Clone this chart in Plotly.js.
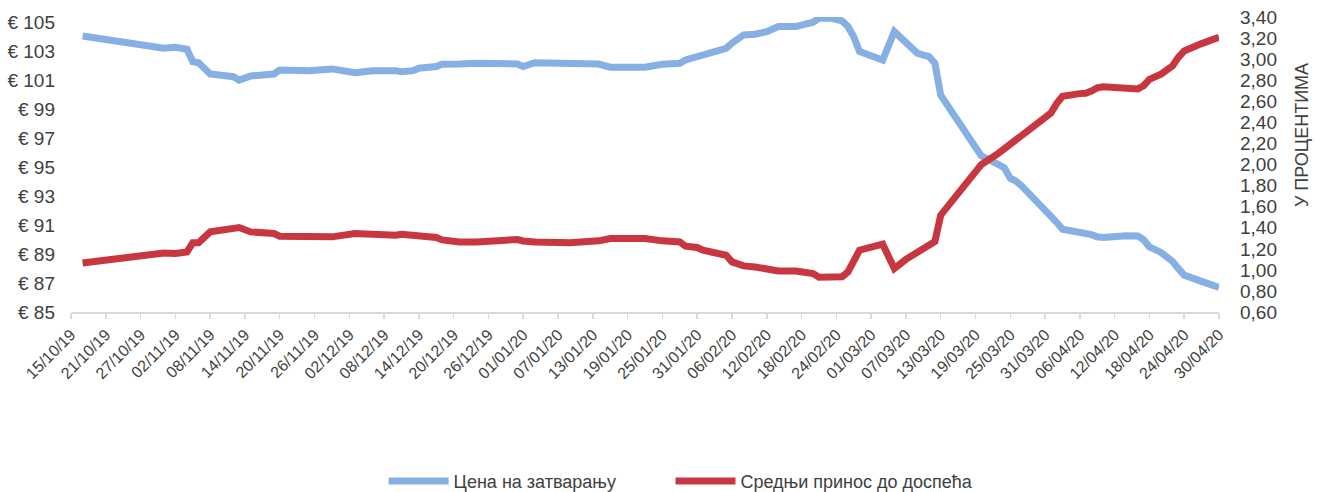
<!DOCTYPE html>
<html>
<head>
<meta charset="utf-8">
<script src="https://cdn.plot.ly/plotly-3.0.1.min.js"></script>
<style>html,body{margin:0;padding:0;background:#fff;}#chart{width:1324px;height:492px;}</style>
</head>
<body>
<div id="chart"></div>
<script>
// Dates of observations
const dates = [
  '2019-10-17','2019-10-22','2019-10-25','2019-10-29','2019-10-31','2019-11-02','2019-11-04','2019-11-05','2019-11-06','2019-11-08',
  '2019-11-12','2019-11-13','2019-11-15','2019-11-19','2019-11-20','2019-11-25','2019-11-27','2019-11-29','2019-12-03','2019-12-05',
  '2019-12-06','2019-12-10','2019-12-11','2019-12-13','2019-12-14','2019-12-17','2019-12-18','2019-12-21','2019-12-24','2019-12-31',
  '2020-01-01','2020-01-03','2020-01-09','2020-01-11','2020-01-14','2020-01-16','2020-01-21','2020-01-22','2020-01-25','2020-01-28',
  '2020-01-29','2020-01-31','2020-02-01','2020-02-04','2020-02-05','2020-02-06','2020-02-08','2020-02-10','2020-02-12','2020-02-14',
  '2020-02-17','2020-02-20','2020-02-21','2020-02-23','2020-02-25','2020-02-26','2020-02-27','2020-02-28','2020-03-03','2020-03-05',
  '2020-03-07','2020-03-09','2020-03-11','2020-03-12','2020-03-13','2020-03-17','2020-03-18','2020-03-19','2020-03-20','2020-03-23',
  '2020-03-24','2020-03-25','2020-03-26','2020-03-27','2020-03-30','2020-03-31','2020-04-01','2020-04-02','2020-04-03','2020-04-06',
  '2020-04-07','2020-04-08','2020-04-09','2020-04-10','2020-04-14','2020-04-15','2020-04-16','2020-04-17','2020-04-18','2020-04-20',
  '2020-04-21','2020-04-22','2020-04-23','2020-04-24','2020-04-27','2020-04-28','2020-04-29','2020-04-30'
];
// Closing price (EUR), left axis
const closingPrice = [
  104.09,103.77,103.70,103.35,103.24,103.31,103.17,102.31,102.24,101.46,
  101.27,101.04,101.32,101.46,101.74,101.69,101.81,101.81,101.55,101.62,
  101.69,101.69,101.62,101.69,101.86,101.97,102.13,102.15,102.20,102.15,
  101.97,102.24,102.24,102.24,102.15,101.93,101.93,101.93,102.13,102.20,
  102.43,102.66,102.90,103.17,103.24,103.59,104.16,104.21,104.39,104.74,
  104.74,105.04,105.32,105.32,105.13,104.74,104.04,103.01,102.43,104.39,
  103.70,102.89,102.66,102.20,100.00,97.58,96.80,96.25,95.80,95.20,
  94.95,94.25,94.05,93.70,92.50,92.15,91.75,91.20,90.72,90.52,
  90.48,90.35,90.20,90.15,90.27,90.31,90.25,90.00,89.50,89.12,
  88.85,88.50,88.00,87.55,87.12,86.95,86.80,86.69
];
// Average yield to maturity (%), right axis
const avgYield = [
  1.066,1.099,1.108,1.140,1.161,1.156,1.171,1.257,1.257,1.361,
  1.384,1.403,1.361,1.346,1.320,1.320,1.317,1.314,1.346,1.339,
  1.330,1.330,1.339,1.330,1.320,1.308,1.285,1.266,1.266,1.289,
  1.275,1.266,1.257,1.262,1.276,1.298,1.298,1.298,1.276,1.266,
  1.225,1.213,1.187,1.161,1.139,1.076,1.038,1.028,1.013,0.990,
  0.990,0.965,0.930,0.925,0.935,0.981,1.070,1.187,1.244,1.013,
  1.100,1.175,1.250,1.270,1.520,1.780,1.860,1.930,2.000,2.110,
  2.150,2.210,2.230,2.270,2.400,2.430,2.490,2.580,2.650,2.675,
  2.678,2.700,2.730,2.740,2.720,2.710,2.720,2.750,2.810,2.860,
  2.900,2.940,3.020,3.080,3.150,3.170,3.190,3.210
];
const seriesNames = ['Цена на затварању', 'Средњи принос до доспећа'];
const rightAxisTitle = 'У ПРОЦЕНТИМА';

const FONT = 'Liberation Sans, Arial, sans-serif';
const TXT = '#404040';

const traces = [
  {x: dates, y: closingPrice, name: seriesNames[0], type: 'scatter', mode: 'lines',
   line: {color: '#86B0E3', width: 7}, yaxis: 'y', legend: 'legend'},
  {x: dates, y: avgYield, name: seriesNames[1], type: 'scatter', mode: 'lines',
   line: {color: '#C8373F', width: 7}, yaxis: 'y2', legend: 'legend2'}
];

const legendBase = {orientation: 'h', xanchor: 'left', y: -0.574, yanchor: 'middle',
                    font: {family: FONT, size: 18, color: TXT}, itemwidth: 60,
                    bgcolor: 'rgba(0,0,0,0)'};

const layout = {
  width: 1324, height: 492,
  margin: {l: 71, r: 105, t: 17, b: 180, autoexpand: false},
  paper_bgcolor: '#fff', plot_bgcolor: '#fff',
  separators: ',.',
  font: {family: FONT, color: TXT, size: 16},
  showlegend: true,
  legend: Object.assign({}, legendBase, {x: 0.2723}),
  legend2: Object.assign({}, legendBase, {x: 0.5222}),
  xaxis: {type: 'date', range: ['2019-10-15', '2020-04-30'], tick0: '2019-10-15',
          dtick: 6 * 86400000, tickformat: '%d/%m/%y', tickangle: -45,
          showline: true, linecolor: '#d9d9d9', linewidth: 2,
          ticks: 'outside', ticklen: 5, tickcolor: '#d9d9d9', tickwidth: 1.5,
          showgrid: false, zeroline: false, tickfont: {size: 16, color: TXT}},
  yaxis: {range: [85, 105.4], tick0: 85, dtick: 2, tickprefix: '€ ',
          showgrid: false, zeroline: false, showline: false, ticks: '',
          tickfont: {size: 19, color: TXT}, ticklabelstandoff: 15},
  yaxis2: {overlaying: 'y', side: 'right', range: [0.6, 3.403], tick0: 0.6, dtick: 0.2,
           tickformat: '.2f', showgrid: false, zeroline: false, showline: false, ticks: '',
           tickfont: {size: 19, color: TXT}, ticklabelstandoff: 20},
  annotations: [
    {text: rightAxisTitle, xref: 'paper', yref: 'paper', x: 1.0723, y: 0.5996,
     textangle: -90, showarrow: false, xanchor: 'center', yanchor: 'middle',
     font: {family: FONT, size: 18, color: TXT}}
  ]
};

Plotly.newPlot('chart', traces, layout, {displayModeBar: false, staticPlot: true});
</script>
</body>
</html>
